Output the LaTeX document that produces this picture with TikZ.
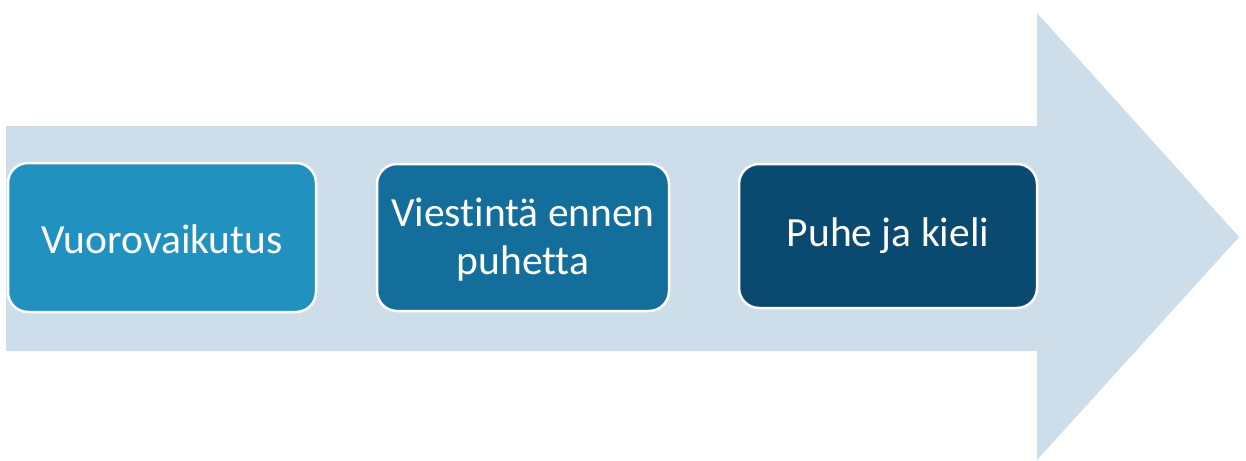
\documentclass[tikz,border=0pt]{standalone}
\usepackage{fontspec}
\setmainfont{Carlito}[Ligatures=NoCommon]
\definecolor{arrowbg}{HTML}{CDDDEA}
\definecolor{boxa}{HTML}{2191C0}
\definecolor{boxb}{HTML}{136E9C}
\definecolor{boxc}{HTML}{0A4A70}
\begin{document}
\begin{tikzpicture}[x=1pt,y=-1pt,
  stagebox/.style={draw=white,line width=2.5pt,rounded corners=20pt},
  stagetext/.style={text=white,font=\fontsize{41.5}{48}\selectfont,align=center,inner sep=0pt}]
\useasboundingbox (0,0) rectangle (1246,460);
\fill[arrowbg] (6,126) -- (1037,126) -- (1037,13) -- (1239,237) -- (1037,460) -- (1037,351) -- (6,351) -- cycle;
\draw[stagebox,fill=boxa] (8,163) rectangle (316,312);
\node[stagetext] (a) at (162,239) {Vuorovaikutus};
\draw[stagebox,fill=boxb] (377,164) rectangle (669,311);
\node[stagetext] (b) at (523,240) {Viestintä ennen\\puhetta};
\draw[stagebox,fill=boxc] (739,164) rectangle (1037,308);
\node[stagetext] (c) at (888,236) {Puhe ja kieli};
\end{tikzpicture}
\end{document}
